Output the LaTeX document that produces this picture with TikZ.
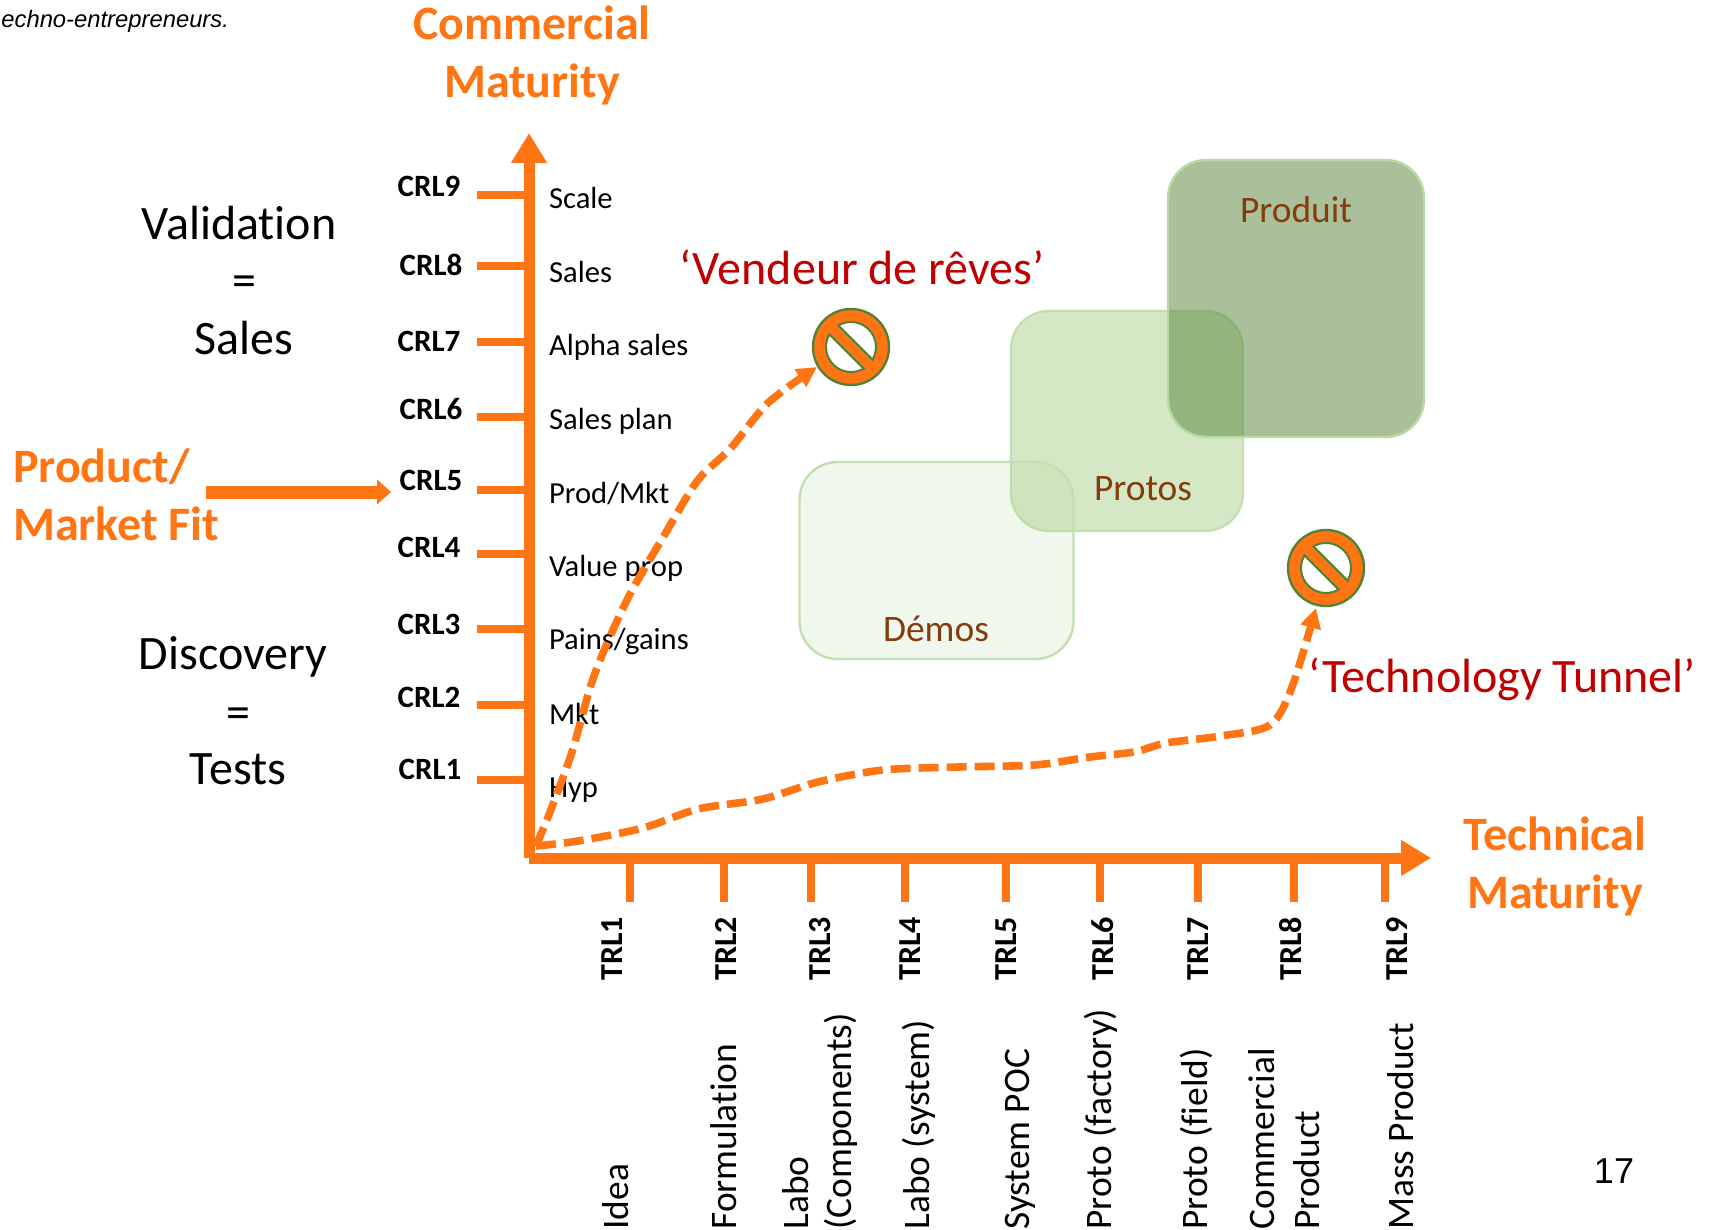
\documentclass[tikz,border=0pt]{standalone}
\usepackage{fontspec}
\setmainfont[Ligatures=NoCommon]{Carlito}
\newfontfamily\arialfont{Liberation Sans}
\usetikzlibrary{arrows.meta,positioning,calc}
\definecolor{mainorange}{HTML}{FF7514}
\definecolor{signgreen}{HTML}{548235}
\definecolor{boxgreen}{HTML}{A9D18E}
\definecolor{darkgreen}{HTML}{548235}
\definecolor{brownlabel}{HTML}{843C0C}
\definecolor{redlabel}{HTML}{C00000}
\tikzset{
  axisline/.style={draw=mainorange,line width=5.5pt,-{Triangle[length=15pt,width=17pt]}},
  tickline/.style={draw=mainorange,line width=3.7pt},
  trend/.style={draw=mainorange,line width=3.8pt,dash pattern=on 10pt off 4pt,-{Triangle[length=10pt,width=10pt]}},
  bigtitle/.style={text=mainorange,text height=17pt,text depth=5pt,font=\fontsize{24}{24}\selectfont\bfseries},
  sidetext/.style={font=\fontsize{24}{24}\selectfont},
  crllabel/.style={font=\fontsize{15.5}{15.5}\selectfont\bfseries},
  stagelabel/.style={anchor=west,font=\fontsize{15.3}{15.3}\selectfont},
  trllabel/.style={rotate=90,font=\fontsize{16}{16}\selectfont\bfseries},
  levellabel/.style={rotate=90,anchor=west,inner sep=0pt,font=\fontsize{18.7}{19}\selectfont},
  redtext/.style={text=redlabel,font=\fontsize{24}{24}\selectfont},
  browntext/.style={text=brownlabel,font=\fontsize{18.7}{18.7}\selectfont},
  zonebox/.style={rounded corners=19pt,line width=1.2pt,inner sep=0pt},
  stopmark/.style={circle,draw=signgreen,fill=mainorange,line width=1.2pt,minimum size=38pt,inner sep=0pt},
}
\newcommand{\stopcut}[1]{
  \fill[white,draw=signgreen,line width=1pt] ($(#1)+(-30.5:12.5pt)$) arc[start angle=-30.5,end angle=120.5,radius=12.5pt] -- cycle;
  \fill[white,draw=signgreen,line width=1pt] ($(#1)+(149.5:12.5pt)$) arc[start angle=149.5,end angle=300.5,radius=12.5pt] -- cycle;
}

\begin{document}
\begin{tikzpicture}[x=0.5pt,y=-0.5pt,on grid,node distance=29pt]
   \useasboundingbox (0,0) rectangle (1709,1230);
   % colored zones
   \node[zonebox,draw=boxgreen!70,fill=boxgreen,fill opacity=.5,minimum width=116pt,minimum height=110pt] (protobox) at (1127,421) {};
   \node[zonebox,draw=boxgreen!70,fill=boxgreen,fill opacity=.17,minimum width=137pt,minimum height=98.5pt] (demobox) at (936.5,560.5) {};
   \node[zonebox,draw=boxgreen!80,fill=darkgreen,fill opacity=.5,minimum width=128pt,minimum height=138.5pt] (prodbox) at (1296,298.5) {};
   \node[browntext] (produit) at (1296,210) {Produit};
   \node[browntext] (protos) at (1143,489) {Protos};
   \node[browntext] (demos) at (936,629) {Démos};
   % axes
   \coordinate (origin) at (529,858);
   \coordinate (ytip) at (529,133);
   \coordinate (xtip) at (1431,858);
   \path[axisline] (origin) -- (ytip);
   \path[axisline] (origin) -- (xtip);
   % CRL ticks
   \coordinate (ctick9) at (477,195);
   \coordinate (ctick8) at (477,266);
   \coordinate (ctick7) at (477,342);
   \coordinate (ctick6) at (477,417);
   \coordinate (ctick5) at (477,490);
   \coordinate (ctick4) at (477,554);
   \coordinate (ctick3) at (477,629);
   \coordinate (ctick2) at (477,705);
   \coordinate (ctick1) at (477,780);
   \path[tickline]
        (ctick9) edge (ctick9 -| origin)
        (ctick8) edge (ctick8 -| origin)
        (ctick7) edge (ctick7 -| origin)
        (ctick6) edge (ctick6 -| origin)
        (ctick5) edge (ctick5 -| origin)
        (ctick4) edge (ctick4 -| origin)
        (ctick3) edge (ctick3 -| origin)
        (ctick2) edge (ctick2 -| origin)
        (ctick1) edge (ctick1 -| origin)
        ;
   % TRL ticks
   \coordinate (ttick1) at (630,902);
   \coordinate (ttick2) at (724,902);
   \coordinate (ttick3) at (811,902);
   \coordinate (ttick4) at (905,902);
   \coordinate (ttick5) at (1006,902);
   \coordinate (ttick6) at (1100,902);
   \coordinate (ttick7) at (1198,902);
   \coordinate (ttick8) at (1294,902);
   \coordinate (ttick9) at (1385,902);
   \path[tickline]
        (ttick1) edge (ttick1 |- origin)
        (ttick2) edge (ttick2 |- origin)
        (ttick3) edge (ttick3 |- origin)
        (ttick4) edge (ttick4 |- origin)
        (ttick5) edge (ttick5 |- origin)
        (ttick6) edge (ttick6 |- origin)
        (ttick7) edge (ttick7 |- origin)
        (ttick8) edge (ttick8 |- origin)
        (ttick9) edge (ttick9 |- origin)
        ;
   % CRL labels and stages
   \node[crllabel] (crl9) at (429,186) {CRL9};
   \node[crllabel] (crl8) at (431,265) {CRL8};
   \node[crllabel] (crl7) at (429,341) {CRL7};
   \node[crllabel] (crl6) at (431,409) {CRL6};
   \node[crllabel] (crl5) at (431,480) {CRL5};
   \node[crllabel] (crl4) at (429,547) {CRL4};
   \node[crllabel] (crl3) at (429,624) {CRL3};
   \node[crllabel] (crl2) at (429,697) {CRL2};
   \node[crllabel] (crl1) at (430,769) {CRL1};
   \node[stagelabel] (scale) at (542,198) {Scale};
   \node[stagelabel] (sales) at (542,272) {Sales};
   \node[stagelabel] (alpha) at (542,347) {Alpha sales};
   \node[stagelabel] (plan) at (542,421) {Sales plan};
   \node[stagelabel] (prodmkt) at (542,494) {Prod/Mkt};
   \node[stagelabel] (value) at (542,568) {Value prop};
   \node[stagelabel] (pains) at (542,642) {Pains/gains};
   \node[stagelabel] (mkt) at (542,714) {Mkt};
   \node[stagelabel] (hyp) at (542,790) {Hyp};
   % TRL labels and levels
   \node[trllabel] (trl1) at (612,949) {TRL1};
   \node[trllabel] (trl2) at (726,949) {TRL2};
   \node[trllabel] (trl3) at (820,949) {TRL3};
   \node[trllabel] (trl4) at (910,949) {TRL4};
   \node[trllabel] (trl5) at (1006,949) {TRL5};
   \node[trllabel] (trl6) at (1103,949) {TRL6};
   \node[trllabel] (trl7) at (1198,949) {TRL7};
   \node[trllabel] (trl8) at (1291,949) {TRL8};
   \node[trllabel] (trl9) at (1397,949) {TRL9};
   \node[levellabel] (idea) at (616,1230) {Idea};
   \node[levellabel] (formul) at (724,1230) {Formulation};
   \node[levellabel] (labo) at (796,1230) {Labo};
   \node[levellabel] (labocomp) at (841,1230) {(Components)};
   \node[levellabel] (labosys) at (919,1230) {Labo (system)};
   \node[levellabel] (syspoc) at (1020,1230) {System POC};
   \node[levellabel] (protofac) at (1101,1230) {Proto (factory)};
   \node[levellabel] (protofield) at (1196,1230) {Proto (field)};
   \node[levellabel] (commer) at (1262,1230) {Commercial};
   \node[levellabel] (product) at (1307,1230) {Product};
   \node[levellabel] (mass) at (1401,1230) {Mass Product};
   % titles
   \node[bigtitle] (comm) at (532,28) {Commercial};
   \node[bigtitle] (commat) [below=of comm] {Maturity};
   \node[bigtitle] (tech) at (1555,838) {Technical};
   \node[bigtitle] (techmat) [below=of tech] {Maturity};
   \node[bigtitle,anchor=west] (pmf) at (6,470) {Product/};
   \node[bigtitle,anchor=west] (pmfb) [below=of pmf.west,anchor=west] {Market Fit};
   \node[sidetext] (valid) at (239,223) {Validation};
   \node[sidetext] (valideq) at (244,286) {=};
   \node[sidetext] (validsales) at (244,338) {Sales};
   \node[sidetext] (disco) at (233,657) {Discovery};
   \node[sidetext] (discoeq) at (238,718) {=};
   \node[sidetext] (discotests) at (238,769) {Tests};
   \node[redtext] (vendeur) at (862,267) {‘Vendeur de rêves’};
   \node[redtext] (tunnel) at (1502,679) {‘Technology Tunnel’};
   \node[font=\arialfont\itshape\fontsize{11.9}{12}\selectfont,anchor=west,inner sep=0pt] (source) at (1,21) {echno-entrepreneurs.};
   \node[font=\arialfont\fontsize{18}{18}\selectfont] (pagenum) at (1614,1171) {17};
   % fit arrow
   \coordinate (fitstart) at (206,492);
   \coordinate (fitend) at (391,492);
   \path[draw=mainorange,line width=6.5pt,-{Triangle[length=7pt,width=12pt]}] (fitstart) -- (fitend);
   % stop signs
   \node[stopmark] (stopdream) at (851,347) {};
   \stopcut{stopdream}
   \node[stopmark] (stoptunnel) at (1326,568) {};
   \stopcut{stoptunnel}
   % trajectories
   \coordinate (curvestart) at (536,846);
   \coordinate (dreamend) at (817,367);
   \coordinate (tunnelend) at (1316,608);
   \draw[trend] plot[smooth] coordinates {(curvestart) (550,812) (572,752) (594,676) (627,600) (665,534) (698,480) (730,449) (768,403) (dreamend)};
   \draw[trend] plot[smooth] coordinates {(curvestart) (578,841) (643,828) (698,809) (763,799) (818,782) (883,770) (959,767) (1035,765) (1090,757) (1134,752) (1166,743) (1221,736) (1270,725) (1292,687) (tunnelend)};
\end{tikzpicture}
\end{document}
